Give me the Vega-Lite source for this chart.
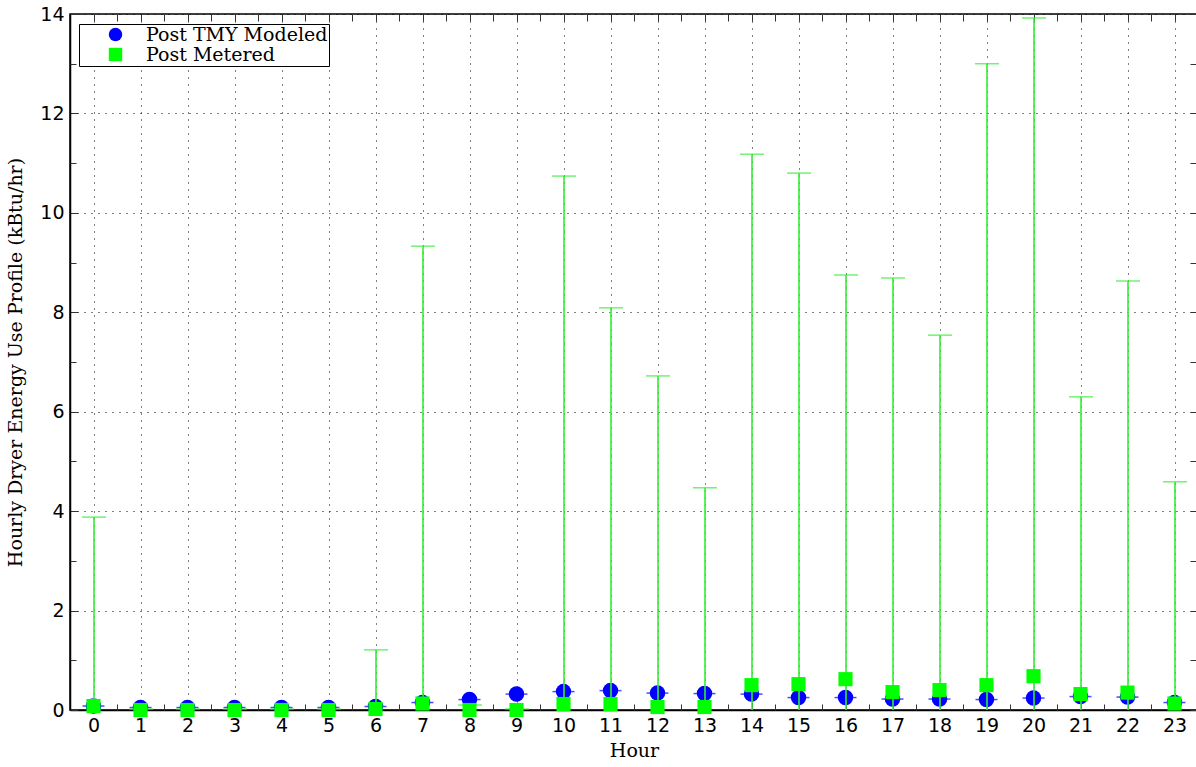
{
  "$schema": "https://vega.github.io/schema/vega-lite/v6.json",
  "width": 1128,
  "height": 696,
  "autosize": {"type": "none"},
  "padding": {"left": 70, "top": 14, "right": 0, "bottom": 57},
  "background": "white",
  "config": {
    "view": {"stroke": "black", "strokeWidth": 1.5},
    "axis": {
      "labelFont": "DejaVu Sans",
      "labelFontSize": 19,
      "labelColor": "black",
      "titleFont": "DejaVu Serif",
      "titleFontSize": 19,
      "titleFontWeight": "normal",
      "titleColor": "black",
      "domainColor": "black",
      "domainWidth": 1.5,
      "tickColor": "#333",
      "gridColor": "black",
      "gridDash": [1, 6],
      "gridWidth": 1,
      "zindex": 0
    }
  },
  "data": {
    "values": [
      {"hour": 0, "mod": 0.08, "met": 0.08, "lo": 0, "hi": 3.88},
      {"hour": 1, "mod": 0.05, "met": 0.0, "lo": 0, "hi": 0.02},
      {"hour": 2, "mod": 0.05, "met": 0.0, "lo": 0, "hi": 0.02},
      {"hour": 3, "mod": 0.05, "met": 0.0, "lo": 0, "hi": 0.02},
      {"hour": 4, "mod": 0.05, "met": 0.0, "lo": 0, "hi": 0.02},
      {"hour": 5, "mod": 0.05, "met": 0.0, "lo": 0, "hi": 0.02},
      {"hour": 6, "mod": 0.07, "met": 0.02, "lo": 0, "hi": 1.21},
      {"hour": 7, "mod": 0.15, "met": 0.13, "lo": 0, "hi": 9.33},
      {"hour": 8, "mod": 0.21, "met": 0.0, "lo": 0, "hi": 0.1},
      {"hour": 9, "mod": 0.32, "met": 0.0, "lo": 0, "hi": 0.02},
      {"hour": 10, "mod": 0.37, "met": 0.12, "lo": 0, "hi": 10.74},
      {"hour": 11, "mod": 0.39, "met": 0.12, "lo": 0, "hi": 8.09},
      {"hour": 12, "mod": 0.34, "met": 0.06, "lo": 0, "hi": 6.72},
      {"hour": 13, "mod": 0.33, "met": 0.06, "lo": 0, "hi": 4.47},
      {"hour": 14, "mod": 0.32, "met": 0.5, "lo": 0, "hi": 11.18},
      {"hour": 15, "mod": 0.25, "met": 0.52, "lo": 0, "hi": 10.8},
      {"hour": 16, "mod": 0.25, "met": 0.62, "lo": 0, "hi": 8.75},
      {"hour": 17, "mod": 0.22, "met": 0.36, "lo": 0, "hi": 8.69},
      {"hour": 18, "mod": 0.22, "met": 0.4, "lo": 0, "hi": 7.54},
      {"hour": 19, "mod": 0.21, "met": 0.5, "lo": 0, "hi": 13.0},
      {"hour": 20, "mod": 0.24, "met": 0.68, "lo": 0, "hi": 13.92},
      {"hour": 21, "mod": 0.27, "met": 0.32, "lo": 0, "hi": 6.3},
      {"hour": 22, "mod": 0.26, "met": 0.35, "lo": 0, "hi": 8.63},
      {"hour": 23, "mod": 0.15, "met": 0.13, "lo": 0, "hi": 4.59}
    ]
  },
  "resolve": {"axis": {"x": "independent", "y": "independent"}},
  "layer": [
    {
      "mark": {"type": "point", "shape": "circle", "filled": true, "size": 0, "opacity": 0},
      "encoding": {
        "x": {"field": "hour", "type": "quantitative", "scale": {"domain": [-0.5, 23.5], "nice": false, "zero": false},
          "axis": {"orient": "bottom", "values": [0,1,2,3,4,5,6,7,8,9,10,11,12,13,14,15,16,17,18,19,20,21,22,23], "title": "Hour", "grid": true, "tickSize": -8, "labelPadding": 14, "titlePadding": 6}},
        "y": {"field": "mod", "type": "quantitative", "scale": {"domain": [0, 14], "nice": false},
          "axis": {"orient": "left", "values": [0,2,4,6,8,10,12,14], "title": "Hourly Dryer Energy Use Profile (kBtu/hr)", "grid": true, "tickSize": -8, "labelPadding": 14, "titlePadding": 14}}
      }
    },
    {
      "mark": {"type": "point", "opacity": 0, "size": 0},
      "encoding": {
        "x": {"field": "hour", "type": "quantitative",
          "axis": {"orient": "top", "values": [-0.5,0,0.5,1,1.5,2,2.5,3,3.5,4,4.5,5,5.5,6,6.5,7,7.5,8,8.5,9,9.5,10,10.5,11,11.5,12,12.5,13,13.5,14,14.5,15,15.5,16,16.5,17,17.5,18,18.5,19,19.5,20,20.5,21,21.5,22,22.5,23,23.5], "labels": false, "title": null, "grid": false, "tickSize": -7, "domain": false}},
        "y": {"field": "mod", "type": "quantitative",
          "axis": {"orient": "right", "values": [0,1,2,3,4,5,6,7,8,9,10,11,12,13,14], "labels": false, "title": null, "grid": false, "tickSize": -8, "domain": false}}
      }
    },
    {
      "mark": {"type": "point", "opacity": 0, "size": 0},
      "encoding": {
        "x": {"field": "hour", "type": "quantitative",
          "axis": {"orient": "bottom", "values": [0.5,1.5,2.5,3.5,4.5,5.5,6.5,7.5,8.5,9.5,10.5,11.5,12.5,13.5,14.5,15.5,16.5,17.5,18.5,19.5,20.5,21.5,22.5], "labels": false, "title": null, "grid": false, "tickSize": -6, "domain": false}},
        "y": {"field": "mod", "type": "quantitative",
          "axis": {"orient": "left", "values": [1,3,5,7,9,11,13], "labels": false, "title": null, "grid": false, "tickSize": -6, "domain": false}}
      }
    },
    {
      "mark": {"type": "point", "shape": "circle", "filled": true, "size": 240, "opacity": 1},
      "encoding": {
        "x": {"field": "hour", "type": "quantitative", "axis": null},
        "y": {"field": "mod", "type": "quantitative", "axis": null},
        "color": {"datum": "Post TMY Modeled", "type": "nominal",
          "scale": {"domain": ["Post TMY Modeled", "Post Metered"], "range": ["#0000ff", "#00ff00"]},
          "legend": {"orient": "none", "legendX": 9, "legendY": 10, "title": null, "strokeColor": "black", "fillColor": "white", "padding": 1, "labelFont": "DejaVu Serif", "labelFontSize": 19, "labelColor": "black", "symbolSize": 180, "symbolOpacity": 1, "symbolStrokeWidth": 0, "labelOffset": 21, "rowPadding": 0, "symbolOffset": 26, "labelLimit": 400}},
        "shape": {"datum": "Post TMY Modeled", "type": "nominal",
          "scale": {"domain": ["Post TMY Modeled", "Post Metered"], "range": ["circle", "square"]}}
      }
    },
    {
      "mark": {"type": "tick", "orient": "horizontal", "size": 22, "thickness": 1.5, "color": "#0000ff"},
      "encoding": {
        "x": {"field": "hour", "type": "quantitative", "axis": null},
        "y": {"field": "mod", "type": "quantitative", "axis": null}
      }
    },
    {
      "mark": {"type": "rule", "color": "#33ee33", "strokeWidth": 1.6, "xOffset": 0.5},
      "encoding": {
        "x": {"field": "hour", "type": "quantitative", "axis": null},
        "y": {"field": "lo", "type": "quantitative", "axis": null},
        "y2": {"field": "hi"}
      }
    },
    {
      "mark": {"type": "tick", "orient": "horizontal", "size": 24, "thickness": 1.5, "color": "#33ee33", "xOffset": 0.5},
      "encoding": {
        "x": {"field": "hour", "type": "quantitative", "axis": null},
        "y": {"field": "hi", "type": "quantitative", "axis": null}
      }
    },
    {
      "mark": {"type": "point", "shape": "square", "filled": true, "size": 200, "opacity": 1},
      "encoding": {
        "x": {"field": "hour", "type": "quantitative", "axis": null},
        "y": {"field": "met", "type": "quantitative", "axis": null},
        "color": {"datum": "Post Metered", "type": "nominal"},
        "shape": {"datum": "Post Metered", "type": "nominal"}
      }
    }
  ]
}
